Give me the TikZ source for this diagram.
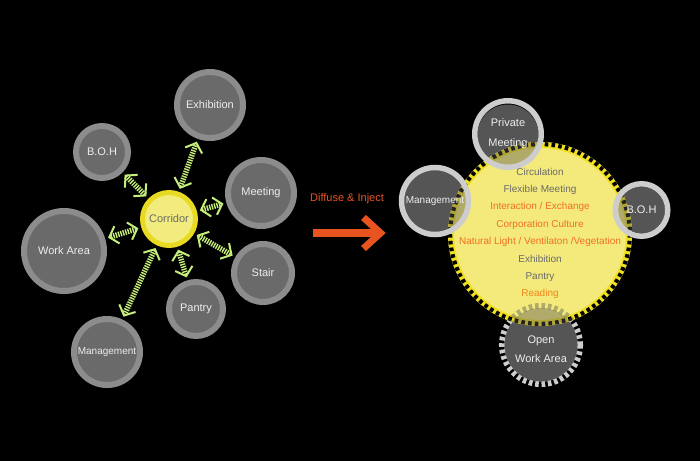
\documentclass[tikz,border=0pt]{standalone}
\usepackage{fontspec}
\setmainfont{Liberation Sans}
\usetikzlibrary{arrows.meta}
\definecolor{ringL}{HTML}{8C8C8C}
\definecolor{innerL}{HTML}{6A6A6A}
\definecolor{ringR}{HTML}{CDCDCD}
\definecolor{innerR}{HTML}{555555}
\definecolor{corrRing}{HTML}{E8DA22}
\definecolor{corrFill}{HTML}{F2EC7E}
\definecolor{bigFill}{HTML}{F4EA7C}
\definecolor{bigRing}{HTML}{F0E020}
\definecolor{hatchG}{HTML}{C6EE7A}
\definecolor{orangeT}{HTML}{F07020}
\definecolor{grayT}{HTML}{6A6A6A}
\definecolor{arrowO}{HTML}{E85420}
\definecolor{labelW}{HTML}{EDEDED}
\begin{document}
\begin{tikzpicture}[x=1pt,y=-1pt,
  lbl/.style={font=\fontsize{11}{13}\selectfont},
  lblsm/.style={font=\fontsize{10}{12}\selectfont},
  leftc/.style={circle, draw=ringL, fill=innerL, line width=6pt, inner sep=0pt, text=labelW, lbl},
  corrc/.style={circle, draw=corrRing, fill=corrFill, line width=5pt, inner sep=0pt, text=grayT, lbl},
  rightc/.style={circle, draw=ringR, line width=5.5pt, inner sep=0pt, text=labelW, lbl},
  hatch/.style={draw=hatchG, line width=5.5pt, dash pattern=on 1.4pt off 1.1pt, {Straight Barb[length=8pt,width=18pt,line width=2pt]}-{Straight Barb[length=8pt,width=18pt,line width=2pt]}, shorten >=3pt, shorten <=3pt},
  txtl/.style={text=labelW, lbl, align=center},
  coretxt/.style={align=center, font=\fontsize{10}{17.4}\selectfont}
]
\fill[black] (0,0) rectangle (700,461);
\useasboundingbox (0,0) rectangle (700,461);

% ---------- left diagram ----------
\node[leftc, minimum size=66pt] (exh) at (210,105) {Exhibition};
\node[leftc, minimum size=52pt] (bohL) at (102,152) {B.O.H};
\node[leftc, minimum size=66pt] (meet) at (261,193) {Meeting};
\node[leftc, minimum size=80pt] (work) at (64,251) {Work Area};
\node[leftc, minimum size=58pt] (stair) at (263,273) {Stair};
\node[leftc, minimum size=54pt] (pantry) at (196,309) {Pantry};
\node[leftc, minimum size=66pt, lblsm] (mgL) at (107,352) {Management};
\node[corrc, minimum size=53pt] (corr) at (169,219) {Corridor};

\foreach \t in {bohL,exh,meet,work,stair,pantry,mgL}
  \draw[hatch] (corr) -- (\t);

% ---------- transition arrow ----------
\node[text=arrowO, lbl] (diff) at (347,199) {Diffuse \& Inject};
\coordinate (arS) at (313,233);
\coordinate (arE) at (379,233);
\coordinate (arT) at (380.5,233);
\draw[arrowO, line width=7.5pt] (arS) -- (arE);
\draw[arrowO, line width=7pt, miter limit=10] (arT) ++(-17,-15.5) -- (arT) -- ++(-17,15.5);

% ---------- right diagram: base layer ----------
\fill[innerR] (508,135) circle (30.5);
\fill[innerR] (435,201) circle (31);
\fill[innerR] (641.5,210) circle (23.5);
\fill[innerR] (541,345) circle (37);
\draw[ringR, line width=5.5pt, dash pattern=on 3.6pt off 2.8pt] (541,345) circle (39.3);

% yellow core
\fill[bigFill] (540,234) circle (92);
\draw[bigRing, line width=6pt] (540,234) circle (89);
\draw[black, line width=4.2pt, dash pattern=on 3.6pt off 3.2pt] (540,234) circle (89.9);

% translucent overlaps
\begin{scope}
  \clip (540,234) circle (92);
  \fill[innerR, opacity=.42] (508,135) circle (30.5);
  \fill[innerR, opacity=.42] (435,201) circle (31);
  \fill[innerR, opacity=.42] (641.5,210) circle (23.5);
  \fill[innerR, opacity=.42] (541,345) circle (37);
  \draw[innerR, opacity=.42, line width=5.5pt, dash pattern=on 3.6pt off 2.8pt] (541,345) circle (39.3);
\end{scope}

% opaque rings and labels
\node[rightc, minimum size=66.5pt, align=center, font=\fontsize{11}{20}\selectfont] (pm) at (508,134) {Private\\Meeting};
\node[rightc, minimum size=67pt, lblsm] (mgR) at (435,201) {Management};
\node[rightc, minimum size=52.5pt] (bohR) at (641.5,210) {B.O.H};
\node[txtl, font=\fontsize{11}{18.5}\selectfont] (open) at (541,349) {Open\\Work Area};

\node[coretxt] (core) at (540,233.5) {%
  \textcolor{grayT}{Circulation}\\
  \textcolor{grayT}{Flexible Meeting}\\
  \textcolor{orangeT}{Interaction / Exchange}\\
  \textcolor{orangeT}{Corporation Culture}\\
  \textcolor{orangeT}{Natural Light / Ventilaton /Vegetation}\\
  \textcolor{grayT}{Exhibition}\\
  \textcolor{grayT}{Pantry}\\
  \textcolor{orangeT!85!yellow}{Reading}};
\end{tikzpicture}
\end{document}
